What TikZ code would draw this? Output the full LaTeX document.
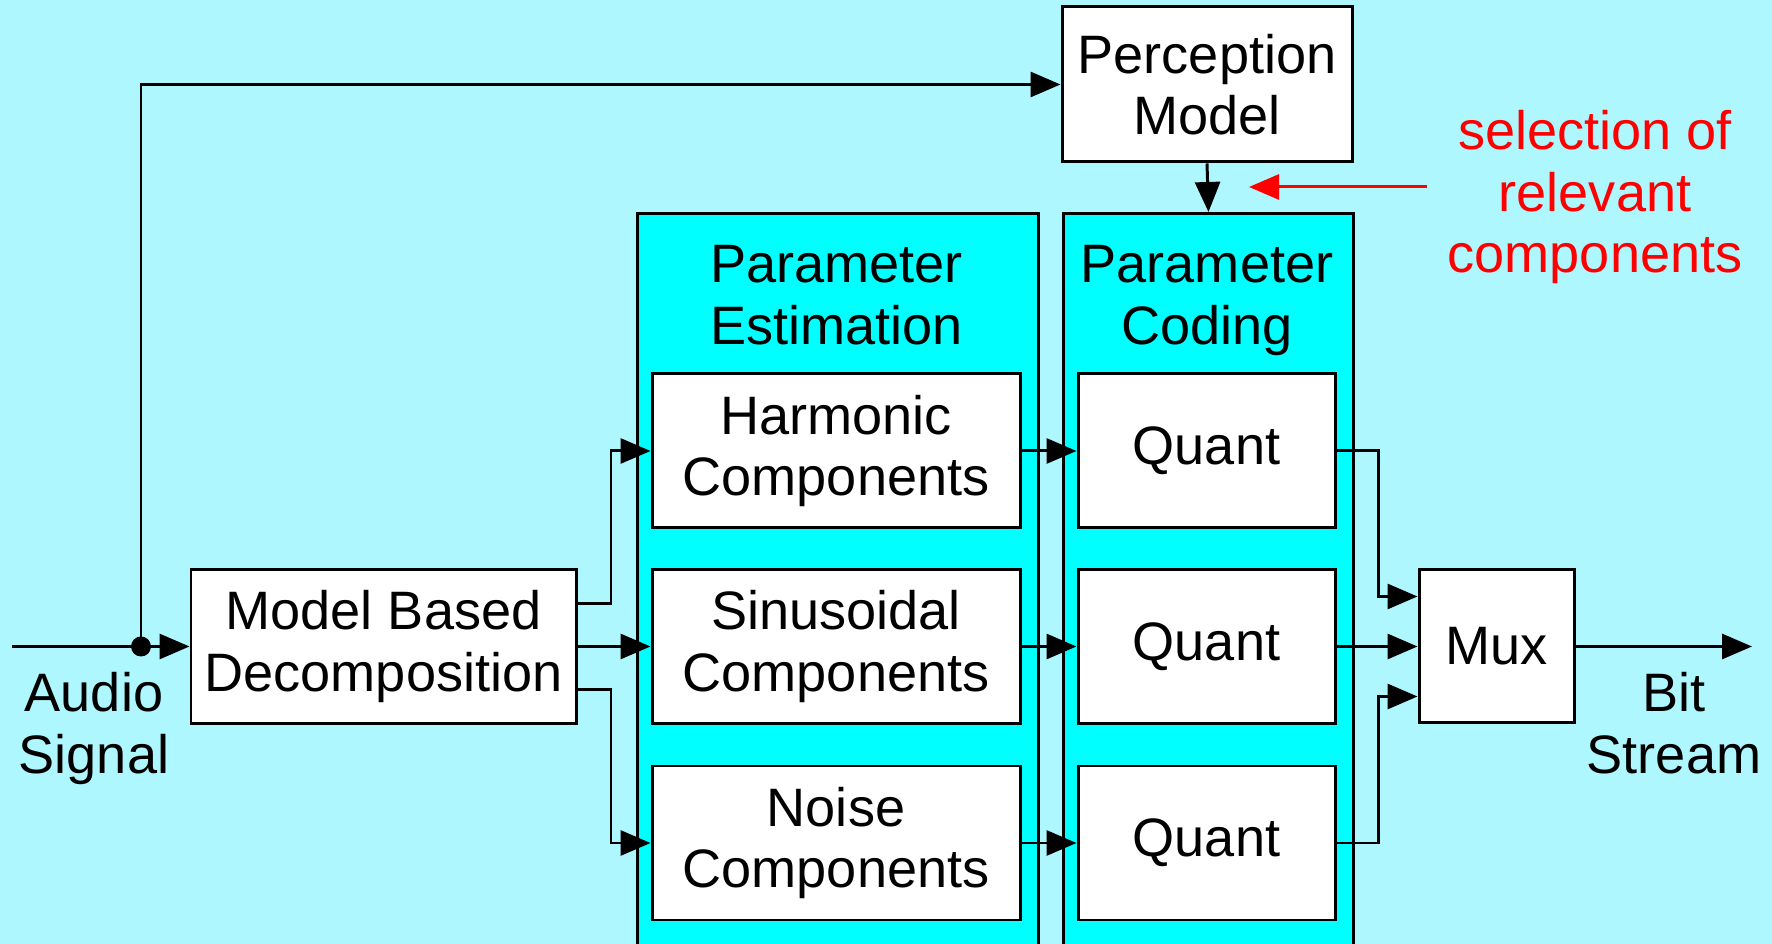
\documentclass[tikz,border=0pt]{standalone}
\usepackage{fontspec}
\setmainfont{Liberation Sans}
\usetikzlibrary{arrows.meta}

\definecolor{bgcyan}{RGB}{175,247,255}
\definecolor{grpcyan}{RGB}{0,255,255}

\begin{document}
\begin{tikzpicture}[
    every node/.style={font=\fontsize{15.4}{17.4}\selectfont},
    box/.style={rectangle, draw, fill=white, line width=0.85pt, inner sep=0pt, align=center, minimum height=1.54cm},
    group/.style={rectangle, draw, fill=grpcyan, line width=0.85pt, inner sep=0pt, anchor=north west, minimum height=7.6cm},
    title/.style={anchor=north, inner sep=0pt, align=center},
    arrow/.style={-{Triangle[length=0.3cm, width=0.25cm]}, line width=0.85pt},
    line/.style={line width=0.85pt}
]
    \useasboundingbox (0,0) rectangle (17.72,9.44);
    \fill[bgcyan] (0,0) rectangle (17.72,9.44);

    % groups
    \node[group, minimum width=4.01cm] (estgrp) at (6.36,7.32) {};
    \node[group, minimum width=2.90cm] (codgrp) at (10.62,7.32) {};
    \node[title] (esttitle) at (8.365,6.99) {Parameter\\Estimation};
    \node[title] (codtitle) at (12.07,6.99) {Parameter\\Coding};

    % blocks
    \node[box, minimum width=2.90cm, minimum height=1.55cm] (percep) at (12.07,8.595) {Perception\\Model};
    \node[box, minimum width=3.85cm] (decomp) at (3.835,2.975) {Model Based\\Decomposition};
    \node[box, minimum width=3.68cm] (harm) at (8.36,4.93) {Harmonic\\Components};
    \node[box, minimum width=3.68cm] (sinus) at (8.36,2.975) {Sinusoidal\\Components};
    \node[box, minimum width=3.68cm] (noise) at (8.36,1.01) {Noise\\Components};
    \node[box, minimum width=2.57cm] (quantA) at (12.065,4.93) {Quant};
    \node[box, minimum width=2.57cm] (quantB) at (12.065,2.975) {Quant};
    \node[box, minimum width=2.57cm] (quantC) at (12.065,1.01) {Quant};
    \node[box, minimum width=1.55cm, minimum height=1.53cm] (mux) at (14.965,2.975) {Mux};

    % labels
    \node[title] (audio) at (0.94,2.72) {Audio\\Signal};
    \node[title] (bits) at (16.74,2.72) {Bit\\Stream};
    \node[title, text=red] (select) at (15.95,8.34) {selection of\\relevant\\components};

    \coordinate (in) at (0.12,2.975);
    \coordinate (junc) at (1.41,2.975);
    \coordinate (out) at (17.52,2.975);
    \coordinate (seltip) at (12.49,7.57);

    % connectors
    \draw[line] (in) -- (junc);
    \draw[arrow] (junc) -- (decomp.west);
    \draw[arrow] (junc) |- (percep.west);
    \fill (junc) circle (0.1);
    \draw[arrow] (percep.south) -- (codgrp.north);
    \draw[arrow, red, shorten <=0.2cm] (select.west |- seltip) -- (seltip);

    \draw[arrow] ([yshift=0.43cm]decomp.east) -- ++(0.335,0) |- (harm.west);
    \draw[arrow] (decomp.east) -- (sinus.west);
    \draw[arrow] ([yshift=-0.43cm]decomp.east) -- ++(0.335,0) |- (noise.west);

    \foreach \a/\b in {harm/quantA, sinus/quantB, noise/quantC}
        \draw[arrow] (\a.east) -- (\b.west);

    \draw[arrow] (quantA.east) -- ++(0.42,0) |- ([yshift=0.5cm]mux.west);
    \draw[arrow] (quantB.east) -- (mux.west);
    \draw[arrow] (quantC.east) -- ++(0.42,0) |- ([yshift=-0.5cm]mux.west);
    \draw[arrow] (mux.east) -- (out);
\end{tikzpicture}
\end{document}
